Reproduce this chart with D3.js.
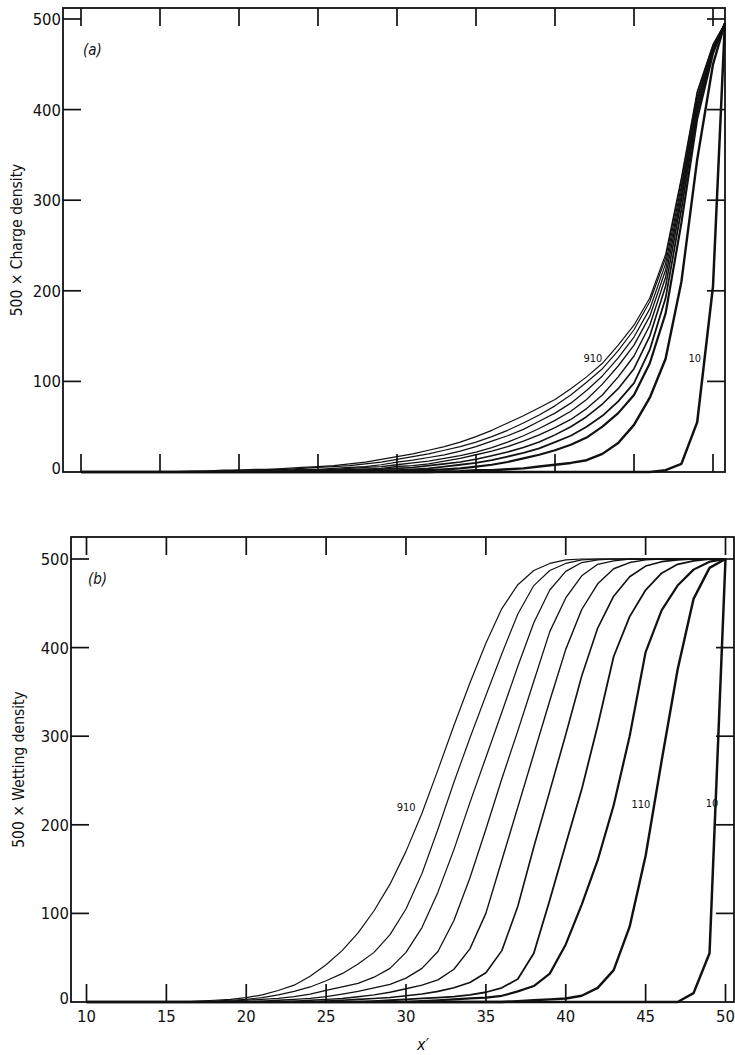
<!DOCTYPE html>
<meta charset="utf-8">
<head>
<title>Charge and wetting density profiles</title>
<script src="https://cdn.jsdelivr.net/npm/d3@7"></script>
<style>
  body { margin: 0; background: #fff; }
  svg { display: block; }
  text { font-family: "DejaVu Sans Condensed", "Liberation Sans Narrow", "DejaVu Sans", sans-serif; fill: #111; }
  .frame { fill: none; stroke: #111; stroke-width: 1.8; }
  .tick { stroke: #111; stroke-width: 1.7; }
  .curve { fill: none; stroke: #111; stroke-linejoin: round; }
  .tick-label { font-size: 16.5px; }
  .axis-title { font-size: 15.5px; }
  .curve-label { font-size: 11px; }
  .panel-label { font-size: 15px; font-style: italic; }
</style>
</head>
<body>
<div id="chart"></div>
<script>
// times of the profiles, from right (earliest) to left (latest)
var times = ["10", "110", "210", "310", "410", "510", "610", "710", "810", "910"];

// lattice positions x'
var xCharge = [10, 11, 12, 13, 14, 15, 16, 17, 18, 19, 20, 21, 22, 23, 24, 25, 26, 27, 28, 29,
  30, 31, 32, 33, 34, 35, 36, 37, 38, 39, 40, 41, 42, 43, 44, 45, 46, 47, 48, 49, 50, 50.75];
var xWet = [10, 11, 12, 13, 14, 15, 16, 17, 18, 19, 20, 21, 22, 23, 24, 25, 26, 27, 28, 29,
  30, 31, 32, 33, 34, 35, 36, 37, 38, 39, 40, 41, 42, 43, 44, 45, 46, 47, 48, 49, 50];

// (a) 500 x charge density
var charge10 = [0,0,0,0,0, 0,0,0,0,0, 0,0,0,0,0, 0,0,0,0,0, 0,0,0,0,0, 0,0,0,0,0, 0,0,0,0,0, 0,0,2,9,55, 205, 495];
var charge110 = [0,0,0,0,0, 0,0,0,0,0, 0,0,0,0,0, 0,0,0,0,0, 0,0,0,0.5,1, 2,2,3,4,6, 8,10,13,20,32, 52,82,125,210,345, 450, 495];
var charge210 = [0,0,0,0,0, 0,0,0,0,0, 0,0,0,0,0, 0,0.5,1,1,1, 1,2,2,3,4, 6,8,11,15,19, 24,30,38,50,65, 85,120,175,275,390, 462, 495];
var charge310 = [0,0,0,0,0, 0,0,0,0,0, 0,0,0,0,0.5, 1,1,1,2,2, 2,3,4,6,8, 10,13,17,21,26, 33,40,50,62,78, 98,135,192,290,398, 465, 495];
var charge410 = [0,0,0,0,0, 0,0,0,0,0, 0,0,0.5,1,1, 1,2,2,3,3, 4,5,7,9,11, 14,18,22,27,33, 41,50,61,75,92, 114,150,205,300,403, 467, 495];
var charge510 = [0,0,0,0,0, 0,0,0,0,0, 0,0.5,1,1,1, 2,2,3,3,4, 6,7,9,12,15, 19,23,28,34,41, 49,58,70,85,105, 128,162,215,306,407, 468, 495];
var charge610 = [0,0,0,0,0, 0,0,0,0,0, 0.5,1,1,1,2, 2,3,4,5,6, 8,10,12,15,18, 22,27,33,40,48, 57,67,80,97,117, 140,172,223,311,411, 469, 495];
var charge710 = [0,0,0,0,0, 0,0,0,0.5,1, 1,1,2,2,3, 3,4,5,6,8, 11,13,16,19,23, 28,34,40,47,56, 65,76,90,106,126, 149,180,230,316,414, 470, 495];
var charge810 = [0,0,0,0,0, 0,0,0.5,1,1, 2,2,3,3,4, 5,6,7,9,11, 14,17,20,24,28, 33,39,46,54,63, 73,85,99,114,134, 157,188,236,322,418, 471, 495];
var charge910 = [0,0,0,0,0, 0,0.5,1,1,2, 2,3,3,4,5, 6,7,9,11,14, 17,20,24,28,33, 39,46,54,62,71, 80,92,105,120,140, 162,192,240,325,420, 472, 495];

// (b) 500 x wetting density
var wet10 = [0,0,0,0,0, 0,0,0,0,0, 0,0,0,0,0, 0,0,0,0,0, 0,0,0,0,0, 0,0,0,0,0, 0,0,0,0,0, 0,0,0,10,55, 500];
var wet110 = [0,0,0,0,0, 0,0,0,0,0, 0,0,0,0,0, 0,0,0,0,0, 0,0,0,0,0, 0,0,1,2,3, 4,7,16,36,85, 165,272,375,455,490, 500];
var wet210 = [0,0,0,0,0, 0,0,0,0,0, 0,0,0,0,0, 0,0,0,0,0, 0,1,2,3,4, 5,7,12,18,32, 65,110,160,222,300, 395,442,470,488,497, 500];
var wet310 = [0,0,0,0,0, 0,0,0,0,0, 0,0,0,0,0, 0,0,0,1,2, 3,4,5,6,8, 11,16,26,55,115, 178,240,312,390,435, 465,484,494,498,500, 500];
var wet410 = [0,0,0,0,0, 0,0,0,0,0, 0,0,0,0,0, 1,2,3,4,5, 7,9,12,16,22, 33,58,108,175,238, 302,368,422,458,480, 492,497,499,500,500, 500];
var wet510 = [0,0,0,0,0, 0,0,0,0,0, 0,0,0,1,2, 3,4,6,8,11, 15,19,25,37,60, 100,160,220,280,340, 398,443,472,489,496, 499,500,500,500,500, 500];
var wet610 = [0,0,0,0,0, 0,0,0,0,0, 0,1,2,3,4, 6,9,12,16,20, 27,38,57,92,140, 195,252,306,362,418, 456,481,494,498,500, 500,500,500,500,500, 500];
var wet710 = [0,0,0,0,0, 0,0,0,0,1, 2,3,4,6,9, 13,17,21,28,38, 56,84,124,172,225, 276,327,379,428,465, 486,496,499,500,500, 500,500,500,500,500, 500];
var wet810 = [0,0,0,0,0, 0,0,0,1,2, 3,5,8,12,17, 24,32,43,56,76, 105,145,195,248,298, 346,393,438,470,487, 495,499,500,500,500, 500,500,500,500,500, 500];
var wet910 = [0,0,0,0,0, 0,0,1,2,3, 5,8,13,19,29, 42,58,78,103,133, 170,213,262,312,360, 405,444,471,487,495, 499,500,500,500,500, 500,500,500,500,500, 500];

var chargeSeries = [charge10, charge110, charge210, charge310, charge410, charge510, charge610, charge710, charge810, charge910];
var wetSeries = [wet10, wet110, wet210, wet310, wet410, wet510, wet610, wet710, wet810, wet910];

var xTicks = [10, 15, 20, 25, 30, 35, 40, 45, 50];
var yTicks = [0, 100, 200, 300, 400, 500];

var width = 735, height = 1055;
var svg = d3.select("#chart").append("svg")
  .attr("width", width)
  .attr("height", height);

// stroke width: earliest profiles drawn heavier, as in the print
function weight(i) {
  return [2.5, 2.4, 2.2, 1.8, 1.6, 1.4, 1.3, 1.25, 1.2, 1.2][i];
}

function drawPanel(p) {
  var g = svg.append("g");
  var x = d3.scaleLinear().domain([10, 50]).range(p.xr);
  var y = d3.scaleLinear().domain([0, 500]).range(p.yr);
  var tl = 18;

  // curves
  var line = d3.line()
    .x(function (d) { return x(d[0]); })
    .y(function (d) { return y(d[1]); });
  p.series.forEach(function (vals, i) {
    var pts = vals.map(function (v, k) { return [p.xs[k], v]; });
    g.append("path")
      .attr("class", "curve")
      .attr("d", line(pts))
      .attr("stroke-width", weight(i));
  });

  // frame
  g.append("rect").attr("class", "frame")
    .attr("x", p.left).attr("y", p.top)
    .attr("width", p.right - p.left).attr("height", p.yr[0] - p.top);

  // inward ticks on all four sides
  xTicks.forEach(function (t) {
    g.append("line").attr("class", "tick")
      .attr("x1", x(t)).attr("x2", x(t))
      .attr("y1", p.yr[0]).attr("y2", p.yr[0] - tl);
    g.append("line").attr("class", "tick")
      .attr("x1", x(t)).attr("x2", x(t))
      .attr("y1", p.top).attr("y2", p.top + tl);
  });
  yTicks.slice(1).forEach(function (t) {
    g.append("line").attr("class", "tick")
      .attr("x1", p.left).attr("x2", p.left + tl)
      .attr("y1", y(t)).attr("y2", y(t));
    g.append("line").attr("class", "tick")
      .attr("x1", p.right).attr("x2", p.right - tl)
      .attr("y1", y(t)).attr("y2", y(t));
  });

  // y tick labels
  yTicks.forEach(function (t) {
    g.append("text").attr("class", "tick-label")
      .attr("x", p.left - 2)
      .attr("y", y(t) + (t === 0 ? 2 : 6))
      .attr("text-anchor", "end")
      .text(t);
  });

  if (p.xLabels) {
    xTicks.forEach(function (t) {
      g.append("text").attr("class", "tick-label")
        .attr("x", x(t)).attr("y", p.yr[0] + 20)
        .attr("text-anchor", "middle")
        .text(t);
    });
  }

  // y axis title
  var cy = (p.top + p.yr[0]) / 2;
  g.append("text").attr("class", "axis-title")
    .attr("transform", "translate(" + p.titleX + "," + (cy + p.titleShift) + ") rotate(-90)")
    .attr("text-anchor", "middle")
    .text(p.title);

  g.append("text").attr("class", "panel-label")
    .attr("x", p.left + p.tagDx).attr("y", p.top + p.tagDy)
    .text(p.tag);

  p.labels.forEach(function (l) {
    g.append("text").attr("class", "curve-label")
      .attr("x", x(l.at[0])).attr("y", y(l.at[1]))
      .attr("text-anchor", "end")
      .text(l.text);
  });
}

drawPanel({
  series: chargeSeries, xs: xCharge,
  xr: [81, 713], yr: [472, 19],
  left: 63, right: 725, top: 8,
  title: "500 \u00d7 Charge density", titleX: 22, titleShift: 0,
  tag: "(a)", tagDx: 20, tagDy: 47,
  xLabels: false,
  labels: [{ text: "910", at: [43.0, 121] }, { text: "10", at: [49.25, 121] }]
});

drawPanel({
  series: wetSeries, xs: xWet,
  xr: [86.5, 725.5], yr: [1002, 559],
  left: 71, right: 734, top: 537,
  title: "500 \u00d7 Wetting density", titleX: 24, titleShift: 0,
  tag: "(b)", tagDx: 17, tagDy: 47,
  xLabels: true,
  labels: [{ text: "910", at: [30.6, 216] }, { text: "110", at: [45.3, 219] }, { text: "10", at: [49.55, 220] }]
});

// x' axis title
svg.append("text")
  .attr("x", 423).attr("y", 1050)
  .attr("text-anchor", "middle")
  .style("font-size", "16px").style("font-style", "italic")
  .text("x\u2032");
</script>
</body>
</html>
